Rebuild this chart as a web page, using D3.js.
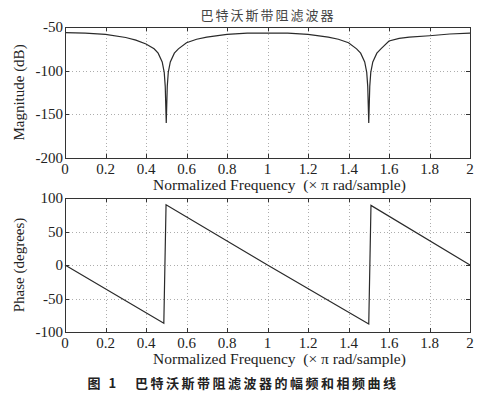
<!DOCTYPE html>
<html>
<head>
  <meta charset="utf-8">
  <style>
  body { margin: 0; background: #fff; }
  svg text { font-family: "Liberation Serif", "DejaVu Serif", serif; fill: #222; }
  .grid line { stroke: #999; stroke-width: 0.8; stroke-dasharray: 1,2.5; shape-rendering: crispedges; }
  .frame { fill: none; stroke: #333; stroke-width: 1; shape-rendering: crispedges; }
  .tickm { stroke: #333; stroke-width: 1; shape-rendering: crispedges; }
  .curve { fill: none; stroke: #2a2a2a; stroke-width: 1.2; }
  .cjk { font-family: "Noto Sans CJK SC", sans-serif !important; }
  </style>
  <script src="https://d3js.org/d3.v7.min.js"></script>
</head>
<body>
<script>
// magnitude response (dB)
var magFreq = [0, 0.1, 0.2, 0.3, 0.35, 0.4, 0.44, 0.46, 0.48, 0.49, 0.495, 0.5, 0.505, 0.51, 0.52, 0.54, 0.56, 0.6, 0.65, 0.7, 0.8, 0.9, 1.0,
               1.1, 1.2, 1.3, 1.35, 1.4, 1.44, 1.46, 1.48, 1.49, 1.495, 1.5, 1.505, 1.51, 1.52, 1.54, 1.56, 1.6, 1.65, 1.7, 1.8, 1.9, 2.0]
var magDb   = [-56.5, -57, -58.5, -62, -65, -69.5, -75, -80, -90, -102, -118, -160, -118, -102, -90, -80, -75, -68, -64, -61.5, -58.5, -57, -57,
               -57, -58.5, -61.5, -64, -68, -75, -80, -90, -102, -118, -160, -118, -102, -90, -80, -75, -66, -63, -61.5, -60, -58, -57]

// phase response (degrees)
var phFreq = [0, 0.488, 0.499, 1.0, 1.5, 1.511, 2.0]
var phDeg  = [0, -87, 90, 0, -88, 89, 0]

var xTicks = [0, 0.2, 0.4, 0.6, 0.8, 1, 1.2, 1.4, 1.6, 1.8, 2]
var magTicks = [-200, -150, -100, -50]
var phTicks = [-100, -50, 0, 50, 100]

var W = 488, H = 395
var left = 65, right = 470

var svg = d3.select("body").append("svg")
    .attr("width", W)
    .attr("height", H)

var x = d3.scaleLinear().domain([0, 2]).range([left, right])

function panel(top, bottom, yDomain, yTicks, yTitle, fx, fy) {
  var y = d3.scaleLinear().domain(yDomain).range([bottom, top])
  var g = svg.append("g")

  var grid = g.append("g").attr("class", "grid")
  grid.selectAll(".gx")
    .data(xTicks.slice(1, -1))
  .enter().append("line")
    .attr("x1", function(d) { return Math.round(x(d)) + 0.5 })
    .attr("x2", function(d) { return Math.round(x(d)) + 0.5 })
    .attr("y1", top).attr("y2", bottom)
  grid.selectAll(".gy")
    .data(yTicks.slice(1, -1))
  .enter().append("line")
    .attr("y1", function(d) { return Math.round(y(d)) + 0.5 })
    .attr("y2", function(d) { return Math.round(y(d)) + 0.5 })
    .attr("x1", left).attr("x2", right)

  // inside ticks on all four sides
  xTicks.forEach(function(d) {
    var px = Math.round(x(d)) + 0.5
    g.append("line").attr("class", "tickm").attr("x1", px).attr("x2", px).attr("y1", bottom).attr("y2", bottom - 4)
    g.append("line").attr("class", "tickm").attr("x1", px).attr("x2", px).attr("y1", top).attr("y2", top + 4)
  })
  yTicks.forEach(function(d) {
    var py = Math.round(y(d)) + 0.5
    g.append("line").attr("class", "tickm").attr("x1", left).attr("x2", left + 4).attr("y1", py).attr("y2", py)
    g.append("line").attr("class", "tickm").attr("x1", right).attr("x2", right - 4).attr("y1", py).attr("y2", py)
  })

  var line = d3.line()
    .x(function(d) { return x(d[0]) })
    .y(function(d) { return y(d[1]) })
  g.append("path")
    .datum(fx.map(function(f, i) { return [f, fy[i]] }))
    .attr("class", "curve")
    .attr("d", line)

  g.append("rect").attr("class", "frame")
    .attr("x", left + 0.5).attr("y", top + 0.5)
    .attr("width", right - left).attr("height", bottom - top)

  g.selectAll(".xl")
    .data(xTicks)
  .enter().append("text")
    .attr("x", function(d) { return x(d) })
    .attr("y", bottom + 16)
    .attr("text-anchor", "middle")
    .style("font-size", "15px")
    .text(function(d) { return d })

  g.selectAll(".yl")
    .data(yTicks)
  .enter().append("text")
    .attr("x", left - 2)
    .attr("y", function(d) { return y(d) + 5 })
    .attr("text-anchor", "end")
    .style("font-size", "15px")
    .text(function(d) { return d })

  g.append("text")
    .attr("x", (left + right) / 2 + 12)
    .attr("y", bottom + 32)
    .attr("text-anchor", "middle")
    .style("font-size", "15.5px")
    .text("Normalized Frequency\u00a0\u00a0(\u00d7 \u03c0 rad/sample)")

  g.append("text")
    .attr("transform", "translate(24," + ((top + bottom) / 2) + ") rotate(-90)")
    .attr("text-anchor", "middle")
    .style("font-size", "15px")
    .text(yTitle)
}

panel(27, 158, [-200, -50], magTicks, "Magnitude (dB)", magFreq, magDb)
panel(198, 332, [-100, 100], phTicks, "Phase (degrees)", phFreq, phDeg)

svg.append("text")
  .attr("class", "cjk")
  .attr("x", 268)
  .attr("y", 20)
  .attr("text-anchor", "middle")
  .style("font-size", "13px")
  .style("letter-spacing", "2px")
  .style("fill", "#444")
  .text("巴特沃斯带阻滤波器")

svg.append("text")
  .attr("class", "cjk")
  .attr("x", 243)
  .attr("y", 388)
  .attr("text-anchor", "middle")
  .style("font-size", "13px")
  .style("font-weight", "bold")
  .style("letter-spacing", "2.5px")
  .text("图 1\u00a0\u00a0\u00a0巴特沃斯带阻滤波器的幅频和相频曲线")
</script>
</body>
</html>
